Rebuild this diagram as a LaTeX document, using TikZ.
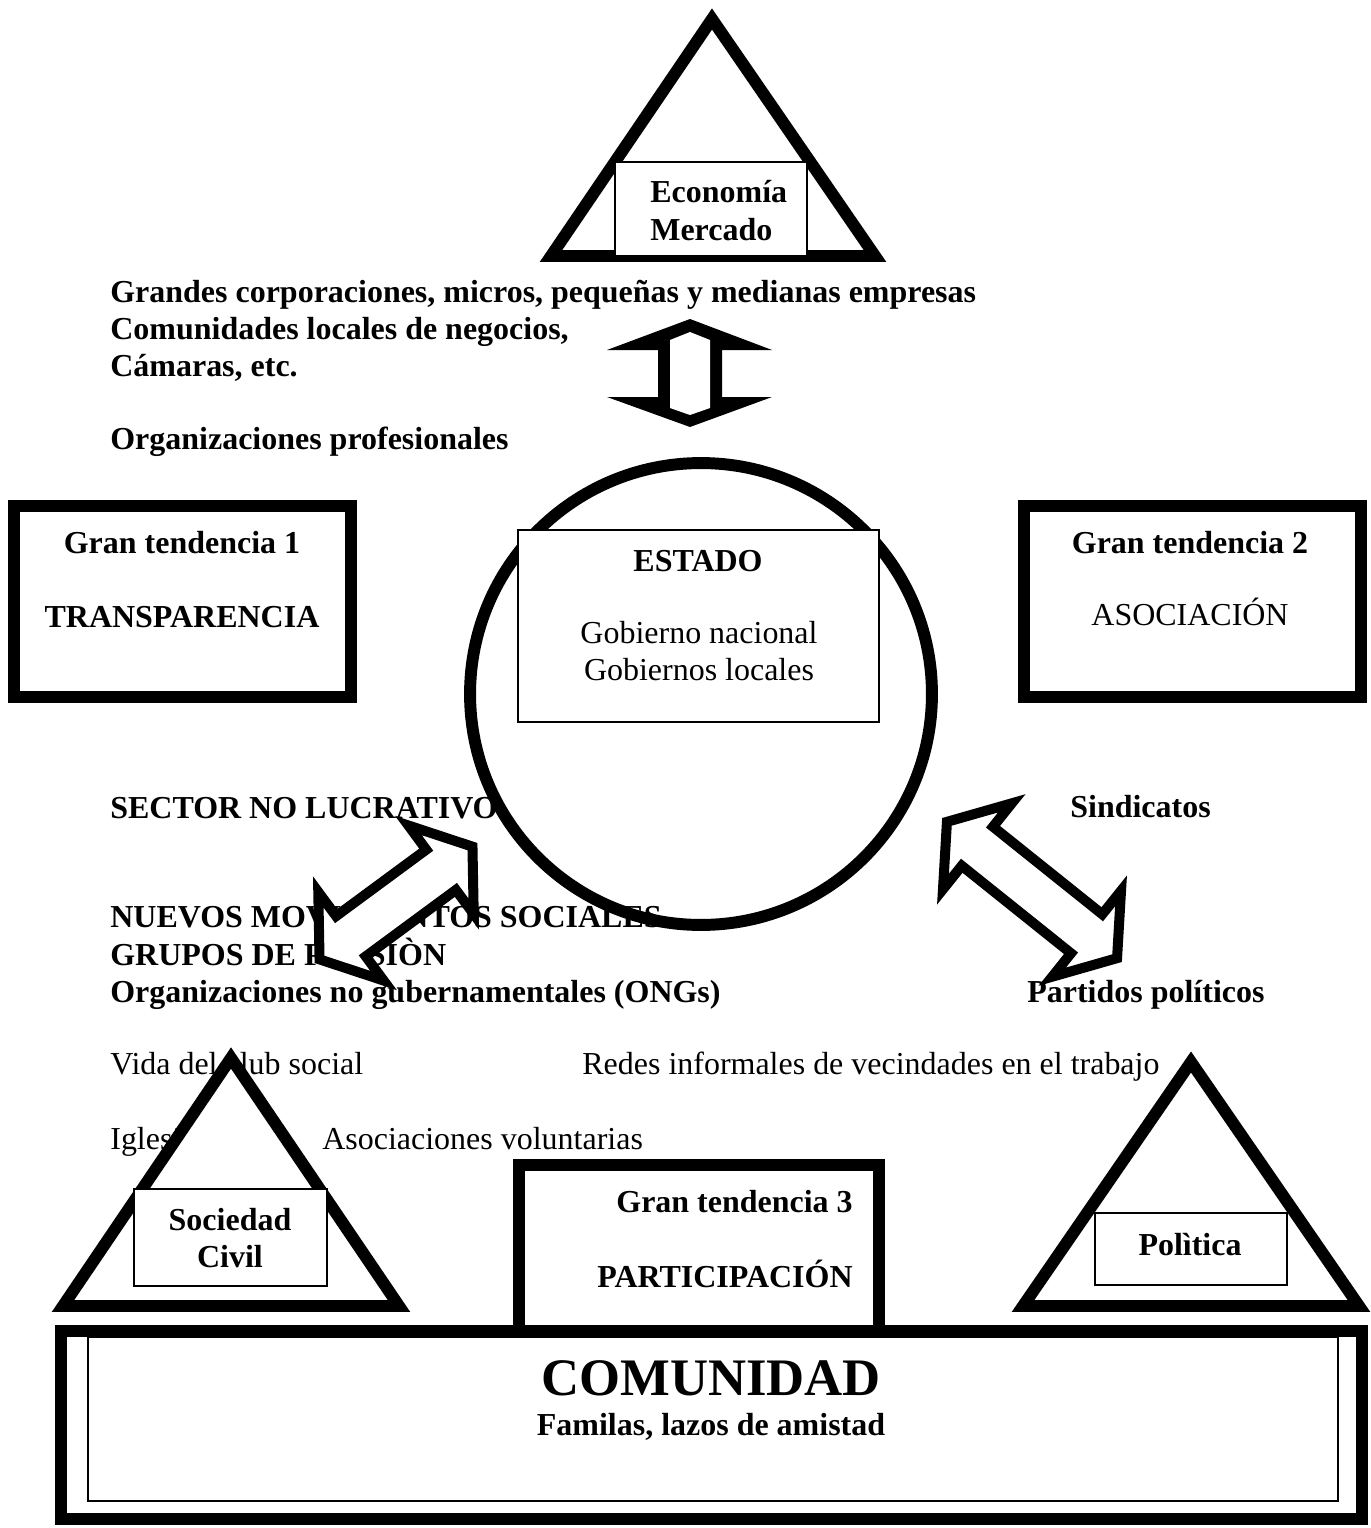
\documentclass[tikz,border=0pt]{standalone}
\usepackage{fontspec}
\setmainfont{Liberation Serif}

\tikzset{
  txt/.style={anchor=base west, inner sep=0pt, font=\bfseries},
  txtn/.style={anchor=base west, inner sep=0pt},
  ctr/.style={anchor=base, inner sep=0pt, font=\bfseries},
  ctrn/.style={anchor=base, inner sep=0pt},
  heavy/.style={draw=black, fill=white, line width=6.8pt, line join=miter},
  thinbox/.style={draw=black, fill=white, line width=0.9pt},
  twoarrow/.style={draw=black, fill=white, line width=5.7pt, line join=miter, miter limit=25}
}

% two-headed block arrow: centre, angle, half length (px)
\newcommand{\twoway}[3]{%
  \begin{scope}[shift={#1}, rotate=#2]
    \draw[twoarrow] (#3-6,0) -- (#3-45,55) -- (#3-45,25) -- (-#3+45,25)
      -- (-#3+45,55) -- (-#3+6,0) -- (-#3+45,-55) -- (-#3+45,-25)
      -- (#3-45,-25) -- (#3-45,-55) -- cycle;
  \end{scope}}

\begin{document}
\fontsize{18.2}{21}\selectfont
\begin{tikzpicture}[x=0.02cm, y=-0.02cm]
\useasboundingbox (0,0) rectangle (1371,1528);

% mercado
\draw[heavy] (712,19) -- (875,256) -- (551,256) -- cycle;
\draw[thinbox] (615,162) rectangle (807,256);
\node[txt] (eco) at (650,202) {Economía};
\node[txt] (mer) at (650,240) {Mercado};

% empresas
\node[txt] (corp) at (110,302) {Grandes corporaciones, micros, pequeñas y medianas empresas};
\node[txt] (neg) at (110,339) {Comunidades locales de negocios,};
\node[txt] (cam) at (110,376) {Cámaras, etc.};
\node[txt] (prof) at (110,449) {Organizaciones profesionales};

% up-down arrow
\coordinate (updown) at (690,373);
\begin{scope}[shift={(updown)}]
\fill (0,-54) -- (82,-23) -- (32,-23) -- (32,24) -- (82,24) -- (0,54)
  -- (-83,24) -- (-32,24) -- (-32,-23) -- (-83,-23) -- cycle;
\fill[white] (0,-41) -- (20,-33) -- (20,35) -- (0,42) -- (-20,35) -- (-20,-33) -- cycle;
\end{scope}

% tendencias 1 y 2
\draw[heavy] (14,506) rectangle (351,697);
\node[ctr] (gt1) at (182,553) {Gran tendencia 1};
\node[ctr] (transp) at (182,627) {TRANSPARENCIA};

\draw[heavy] (1024,506) rectangle (1361,697);
\node[ctr] (gt2) at (1190,553) {Gran tendencia 2};
\node[ctrn] (asoc) at (1190,625) {ASOCIACIÓN};

% estado
\coordinate (estado) at (701,694);
\draw[black, line width=6.8pt] (estado) circle (4.62cm);
\draw[thinbox] (518,530) rectangle (879,722);
\node[ctr] (est) at (698,571) {ESTADO};
\node[ctrn] (gobn) at (699,643) {Gobierno nacional};
\node[ctrn] (gobl) at (699,680) {Gobiernos locales};

% sociedad civil, politica
\node[txt] (snl) at (110,818) {SECTOR NO LUCRATIVO};
\node[txt] (sind) at (1070,817) {Sindicatos};
\node[txt] (nms) at (110,927) {NUEVOS MOVIMIENTOS SOCIALES};
\node[txt] (gp) at (110,965) {GRUPOS DE PRESIÒN};
\node[txt] (ong) at (110,1002) {Organizaciones no gubernamentales (ONGs)};
\node[txt] (part) at (1027,1002) {Partidos políticos};
\node[txtn] (club) at (110,1074) {Vida del club social};
\node[txtn] (redes) at (582,1074) {Redes informales de vecindades en el trabajo};
\node[txtn] (igl) at (110,1149) {Iglesias};
\node[txtn] (vol) at (322,1149) {Asociaciones voluntarias};

\coordinate (leftarrow) at (396,903);
\coordinate (rightarrow) at (1032,890);
\twoway{(leftarrow)}{36.4}{101}
\twoway{(rightarrow)}{-38.7}{115}

\draw[heavy] (231,1058) -- (399,1306) -- (63,1306) -- cycle;
\draw[thinbox] (134,1189) rectangle (327,1286);
\node[ctr] (soc) at (230,1230) {Sociedad};
\node[ctr] (civ) at (230,1267) {Civil};

\draw[heavy] (1191,1062) -- (1359,1306) -- (1023,1306) -- cycle;
\draw[thinbox] (1095,1213) rectangle (1287,1285);
\node[ctr] (pol) at (1190,1255) {Polìtica};

% tendencia 3
\draw[heavy] (519,1165) rectangle (879,1331);
\node[txt, anchor=base east] (gt3) at (853,1212) {Gran tendencia 3};
\node[txt, anchor=base east] (partic) at (853,1287) {PARTICIPACIÓN};

% comunidad
\draw[heavy] (61,1331) rectangle (1362,1519);
\draw[thinbox] (88,1337) rectangle (1338,1501);
\node[ctr, font=\fontsize{30}{34}\selectfont\bfseries] (com) at (711,1395) {COMUNIDAD};
\node[ctr] (fam) at (711,1435) {Familas, lazos de amistad};

\end{tikzpicture}
\end{document}
